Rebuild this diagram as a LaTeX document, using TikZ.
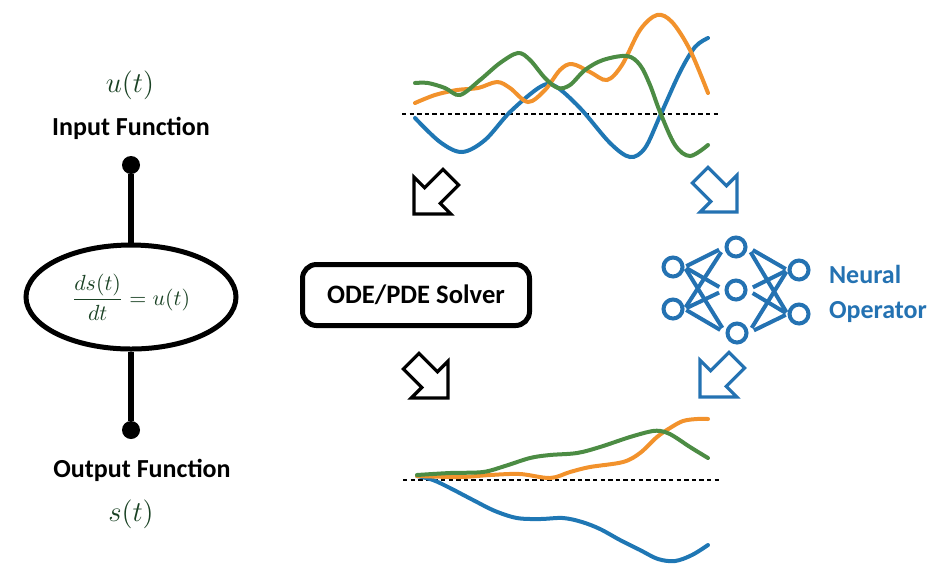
\documentclass[tikz,border=0pt]{standalone}
\usepackage{amsmath}
\usepackage{fontspec}
\setmainfont{Carlito}
\usetikzlibrary{shapes.geometric}
\usetikzlibrary{positioning}

\definecolor{curveblue}{RGB}{31,119,180}
\definecolor{curveorange}{RGB}{242,146,44}
\definecolor{curvegreen}{RGB}{76,140,68}
\definecolor{nnblue}{RGB}{36,114,178}
\definecolor{eqgreen}{RGB}{25,65,35}

\tikzset{
  boldlabel/.style={font=\fontsize{13}{17.5}\selectfont\bfseries},
  mathlabel/.style={text=eqgreen, font=\fontsize{15.5}{17}\selectfont},
  stem/.style={line width=3pt},
  terminal/.style={circle, fill=black, inner sep=0pt, minimum size=9pt},
  neuron/.style={circle, draw=nnblue, line width=2pt, minimum size=9.5pt, inner sep=0pt},
  synapse/.style={nnblue, line width=2pt, shorten <=1pt, shorten >=3pt},
  zeroline/.style={line width=1pt, dash pattern=on 2.2pt off 1.6pt},
  curve/.style={line width=2pt, line cap=round},
  arrowline/.style={line width=1.6pt, line join=miter}
}

% hollow block arrow: colour, tip, angle
\newcommand{\blockarrow}[3]{%
  \draw[arrowline, #1, shift={#2}, rotate=#3]
    (0pt,0pt) -- (-13pt,13pt) -- (-13pt,5.5pt) -- (-26pt,5.5pt)
    -- (-26pt,-5.5pt) -- (-13pt,-5.5pt) -- (-13pt,-13pt) -- cycle;}

\begin{document}
\begin{tikzpicture}[x=0.5pt, y=-0.5pt]
  \useasboundingbox (0,0) rectangle (945,569);

  %% Left: input, equation, output
  \node[mathlabel] (inFunc) at (130,85) {$u(t)$};
  \node[boldlabel] (inLabel) at (131,128) {Input Function};
  \node[terminal] (inTerm) at (131,165) {};
  % Uses Shapes
  \node[draw, ellipse, line width=2.5pt, minimum width=105pt, minimum height=52pt,
        inner sep=0pt, text=eqgreen, font=\fontsize{10.5}{12}\selectfont]
        (ode) at (131,297) {$\dfrac{ds(t)}{dt} = u(t)$};
  \node[terminal] (outTerm) at (131,430) {};
  \node[boldlabel] (outLabel) at (142,470) {Output Function};
  \node[mathlabel] (outFunc) at (131,514) {$s(t)$};
  \draw[stem] (inTerm) -- (ode.north);
  \draw[stem] (ode.south) -- (outTerm);

  %% Solver box
  \node[draw, line width=2.5pt, rounded corners=7pt, minimum width=113.5pt,
        minimum height=30.5pt, font=\fontsize{13.3}{15}\selectfont\bfseries]
        (solver) at (416,295) {ODE/PDE Solver};

  %% Top plot: input samples
  \draw[zeroline] (402,114) -- (718,114);
  \draw[curve, curveblue] plot[smooth, tension=0.55] coordinates {
    (415,118) (440,142) (462,152) (485,140) (510,112) (540,87) (555,86)
    (580,108) (610,143) (630,157) (645,148) (660,116) (680,72) (695,47) (708,38)};
  \draw[curve, curveorange] plot[smooth, tension=0.55] coordinates {
    (415,103) (435,95) (457,90) (478,88) (497,82) (510,88) (528,102) (545,90)
    (560,70) (572,64) (590,72) (607,80) (622,65) (640,30) (657,15) (672,22)
    (690,50) (708,93)};
  \draw[curve, curvegreen] plot[smooth, tension=0.55] coordinates {
    (415,83) (428,83) (445,88) (460,95) (480,80) (500,63) (518,53) (530,60)
    (545,78) (558,88) (570,85) (585,70) (603,60) (627,56) (640,65) (650,85)
    (660,112) (675,145) (690,156) (708,145)};

  %% Bottom plot: output samples
  \draw[zeroline] (403,480) -- (720,480);
  \draw[curve, curveblue] plot[smooth, tension=0.55] coordinates {
    (417,476) (433,480) (450,488) (473,500) (495,511) (517,518) (540,519)
    (563,518) (582,522) (600,529) (620,540) (640,550) (658,559) (675,561)
    (692,555) (708,545)};
  \draw[curve, curveorange] plot[smooth, tension=0.55] coordinates {
    (417,476) (460,477) (490,475) (520,474) (550,478) (570,472) (590,467)
    (623,462) (640,453) (657,437) (670,428) (683,421) (697,419) (708,419)};
  \draw[curve, curvegreen] plot[smooth, tension=0.55] coordinates {
    (417,475) (450,473) (483,472) (505,466) (530,458) (550,455) (577,453)
    (600,447) (630,437) (653,431) (665,432) (675,437) (690,447) (708,458)};

  %% Neural operator
  \node[neuron] (in1) at (673,267) {};
  \node[neuron] (in2) at (673,309) {};
  \node[neuron] (h1) at (736,247) {};
  \node[neuron] (h2) at (736,290) {};
  \node[neuron] (h3) at (737,333) {};
  \node[neuron] (o1) at (799,270) {};
  \node[neuron] (o2) at (799,314) {};
  \foreach \i in {in1,in2}
    \foreach \h in {h1,h2,h3}
      \draw[synapse] (\i.east) -- (\h.west);
  \foreach \h in {h1,h2,h3}
    \foreach \o in {o1,o2}
      \draw[synapse, shorten <=3pt, shorten >=1pt] (\h.east) -- (\o.west);
  \node[boldlabel, text=nnblue, align=left, anchor=west] (opLabel) at (822,294)
    {Neural\\Operator};

  %% Drawing hollow arrows
  \blockarrow{black}{(414,214)}{225}
  \blockarrow{black}{(448,398)}{-45}
  \blockarrow{nnblue}{(737,212)}{-45}
  \blockarrow{nnblue}{(700,397)}{225}
\end{tikzpicture}
\end{document}
